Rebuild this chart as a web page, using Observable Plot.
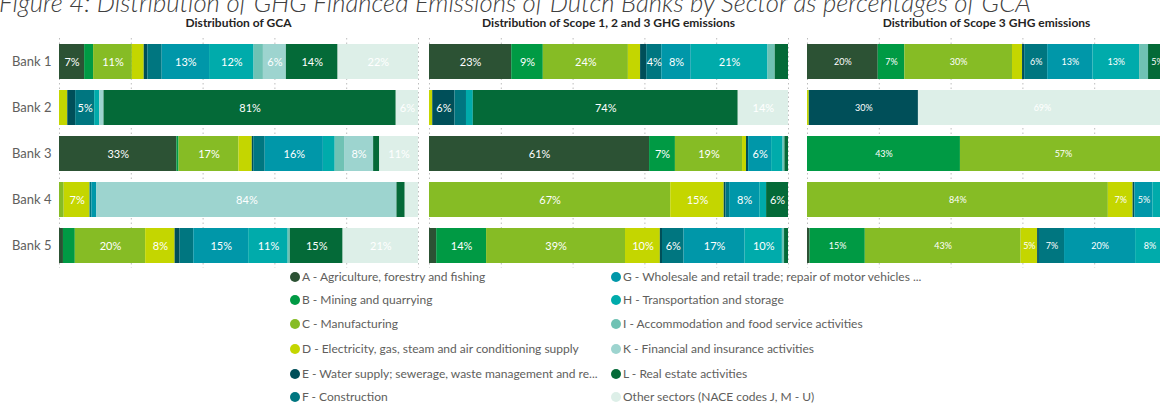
<!DOCTYPE html>
<html><head><meta charset="utf-8">
<script src="https://cdn.jsdelivr.net/npm/d3@7"></script>
<script src="https://cdn.jsdelivr.net/npm/@observablehq/plot@0.6"></script>
<style>
body{margin:0;width:1160px;height:404px;overflow:hidden;background:#fff;font-family:Lato,sans-serif;position:relative}
.abs{position:absolute}
.ptitle{position:absolute;top:16px;line-height:14px;font-weight:700;font-size:12px;color:#252423;transform:translateX(-50%);white-space:nowrap}
.leg{position:absolute;font-size:12px;line-height:14px;color:#605e5c;white-space:nowrap;display:flex;align-items:center}
.dot{width:10px;height:10px;border-radius:50%;margin-right:2px;flex:none}
</style></head><body>
<svg class="abs" style="left:0;top:0" width="1160" height="22"><text id="mainTitle" x="-1" y="12" textLength="1032" lengthAdjust="spacingAndGlyphs" font-family="Lato" font-style="italic" font-weight="300" font-size="26" fill="#404040"></text></svg>
<div id="root"></div>
<script>
const figureTitle = "Figure 4: Distribution of GHG Financed Emissions of Dutch Banks by Sector as percentages of GCA";
const panelTitles = ["Distribution of GCA", "Distribution of Scope 1, 2 and 3 GHG emissions", "Distribution of Scope 3 GHG emissions"];
const banks = ["Bank 1", "Bank 2", "Bank 3", "Bank 4", "Bank 5"];
const sectors = [
  "A - Agriculture, forestry and fishing",
  "B - Mining and quarrying",
  "C - Manufacturing",
  "D - Electricity, gas, steam and air conditioning supply",
  "E - Water supply; sewerage, waste management and re...",
  "F - Construction",
  "G - Wholesale and retail trade; repair of motor vehicles ...",
  "H - Transportation and storage",
  "I - Accommodation and food service activities",
  "K - Financial and insurance activities",
  "L - Real estate activities",
  "Other sectors (NACE codes J, M - U)"
];
const sectorColors = ["#2c5234", "#009a44", "#86bc25", "#c4d600", "#004f59", "#007680", "#0097a9", "#00abab", "#6fc2b4", "#9dd4cf", "#046a38", "#ddefe8"];

// values per bank, in sector order A B C D E F G H I K L Other (percent)
const gcaValues = [
  [7, 2.5, 10.8, 3.3, 1, 4.0, 13.2, 12.4, 2.6, 6.4, 14.4, 22.4],
  [0, 0, 0, 2.3, 2.2, 5.3, 0, 1.4, 0, 1.2, 81.4, 6.2],
  [32.7, 0.6, 16.7, 3.7, 0.4, 3.2, 16.2, 3.3, 2.6, 8.1, 1.7, 10.8],
  [0, 0, 1.3, 7.2, 0, 0.5, 1.4, 0, 0, 83.6, 2.3, 3.7],
  [1.1, 3.3, 19.6, 8.2, 1.4, 3.8, 15.3, 11, 0.6, 0, 14.7, 21]
];
const scope123Values = [
  [22.9, 8.8, 23.7, 3.4, 1.7, 4.2, 8.2, 21.4, 2, 0, 3.7, 0],
  [0, 0, 0, 0.9, 6.2, 3.2, 0, 1.9, 0, 0, 73.8, 14],
  [61.3, 7.2, 18.7, 1.1, 0.6, 0, 6.4, 3.2, 0.5, 0, 1, 0],
  [0, 0, 67.2, 14.9, 0.5, 1.0, 8.4, 1.9, 0, 0, 6.1, 0],
  [2, 13.9, 38.7, 9.7, 0.6, 6, 17.0, 10.4, 0.6, 0, 1.1, 0]
];
const scope3Values = [
  [19.7, 7.4, 30, 2.8, 0.6, 6.4, 12.6, 13.0, 2.5, 0, 5, 0],
  [0, 0, 0, 0.5, 30.4, 0, 0, 0, 0, 0, 0, 69.1],
  [0, 42.6, 57.4, 0, 0, 0, 0, 0, 0, 0, 0, 0],
  [0, 0, 83.8, 6.9, 0.5, 0, 5, 3.8, 0, 0, 0, 0],
  [0.7, 15.4, 43.4, 4.6, 0.5, 7, 19.8, 8, 0.6, 0, 0, 0]
];
const gridTicks = [0, 20, 40, 60, 80, 100];

document.getElementById("mainTitle").textContent = figureTitle;
const root = document.getElementById("root");

const panels = [
  {title: panelTitles[0], values: gcaValues, left: 0, marginLeft: 59, axis: true, fs: 11},
  {title: panelTitles[1], values: scope123Values, left: 429, marginLeft: 0, axis: false, fs: 11},
  {title: panelTitles[2], values: scope3Values, left: 807, marginLeft: 0, axis: false, fs: 9}
];
const barW = 359;

for (const p of panels) {
  const rows = banks.flatMap((b, i) => sectors.map((s, j) => ({bank: b, sector: s, value: p.values[i][j]})));
  const chart = Plot.plot({
    width: p.marginLeft + barW,
    height: 230,
    marginTop: 0, marginBottom: 0, marginRight: 0, marginLeft: p.marginLeft,
    style: {fontFamily: "Lato, sans-serif", fontSize: "13px", color: "#605e5c", background: "transparent", overflow: "visible"},
    x: {domain: [0, 100], axis: null},
    y: {domain: banks, paddingInner: 0.24, paddingOuter: 0.12, axis: p.axis ? "left" : null, tickSize: 0, tickPadding: 8, label: null},
    color: {domain: sectors, range: sectorColors},
    marks: [
      Plot.gridX(gridTicks, {stroke: "#bdbdbd", strokeOpacity: 1, strokeDasharray: "1.5,3"}),
      Plot.barX(rows, Plot.stackX({x: "value", y: "bank", fill: "sector"})),
      Plot.text(rows, Plot.stackX({x: "value", y: "bank", text: d => d.value >= 4.1 ? Math.round(d.value) + "%" : "", fill: "white", fontSize: p.fs}))
    ]
  });
  chart.style.position = "absolute";
  chart.style.left = p.left + "px";
  chart.style.top = "38px";
  root.appendChild(chart);
  const t = document.createElement("div");
  t.className = "ptitle";
  t.textContent = p.title;
  t.style.left = (p.left + p.marginLeft + barW / 2) + "px";
  root.appendChild(t);
}

// legend
const legRows = [277, 300, 324, 349, 374, 397];
sectors.forEach((s, i) => {
  const col = i < 6 ? 0 : 1;
  const r = i % 6;
  const d = document.createElement("div");
  d.className = "leg";
  d.style.left = (col === 0 ? 290 : 611) + "px";
  d.style.top = (legRows[r] - 7) + "px";
  const dot = document.createElement("span");
  dot.className = "dot";
  dot.style.background = sectorColors[i];
  const tx = document.createElement("span");
  tx.textContent = s;
  d.appendChild(dot); d.appendChild(tx);
  root.appendChild(d);
});
</script>
</body></html>
